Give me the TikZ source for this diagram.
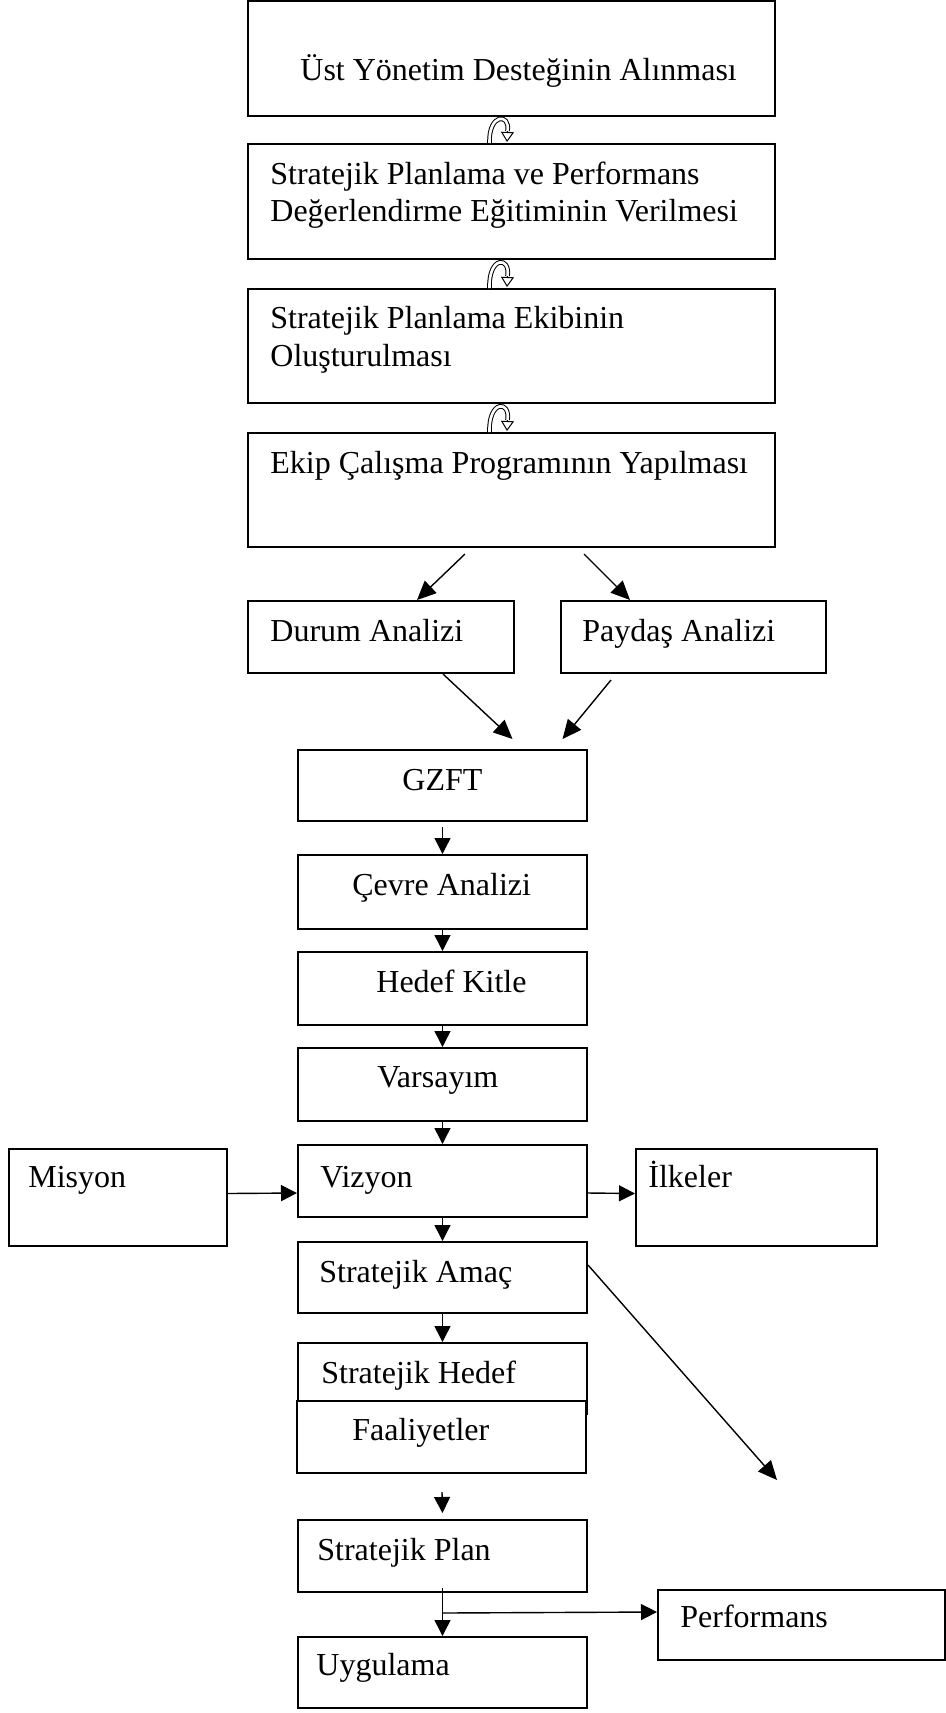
\documentclass[tikz,border=0pt]{standalone}
\usepackage{fontspec}
\setmainfont{Liberation Serif}
\usetikzlibrary{arrows.meta,calc,fit}
\begin{document}
\begin{tikzpicture}[x=0.5pt,y=-0.5pt,
  box/.style={draw, line width=1pt, inner sep=0pt, fill=white},
  txt/.style={inner sep=0pt, anchor=base west, font=\fontsize{16}{19}\selectfont},
  arr/.style={line width=0.7pt, -{Triangle[length=8pt,width=8pt]}},
  darr/.style={line width=0.7pt, -{Triangle[length=9.5pt,width=8.5pt]}},
  curl/.style={double, double distance=1.3pt, line width=0.5pt},
  curltip/.style={line width=0.5pt, fill=white, -{Triangle[open,length=5pt,width=6.5pt]}}]
\useasboundingbox (0,0) rectangle (946,1713);

% boxes
\node[box, fit={(248,1) (775,116)}] (b1) {};
\node[box, fit={(248,144) (775,259)}] (b2) {};
\node[box, fit={(248,289) (775,403)}] (b3) {};
\node[box, fit={(248,433) (775,547)}] (b4) {};
\node[box, fit={(248,601) (514,673)}] (durum) {};
\node[box, fit={(561,601) (826,673)}] (payd) {};
\node[box, fit={(298,750) (587,821)}] (gzft) {};
\node[box, fit={(298,855) (587,929)}] (cevre) {};
\node[box, fit={(298,952) (587,1025)}] (hkitle) {};
\node[box, fit={(298,1048) (587,1121)}] (vars) {};
\node[box, fit={(298,1145) (587,1217)}] (viz) {};
\node[box, fit={(9,1149) (227,1246)}] (mis) {};
\node[box, fit={(636,1149) (877,1246)}] (ilk) {};
\node[box, fit={(298,1242) (587,1313)}] (amac) {};
\node[box, fit={(298,1343) (587,1414)}] (hedef) {};
\node[box, fit={(297,1401) (586,1473)}] (faal) {};
\node[box, fit={(298,1520) (587,1592)}] (plan) {};
\node[box, fit={(658,1590) (945,1660)}] (perf) {};
\node[box, fit={(298,1637) (587,1708)}] (uyg) {};

% texts
\node[txt] (t1) at (300,80) {Üst Yönetim Desteğinin Alınması};
\node[txt] (t2a) at (270,184) {Stratejik Planlama ve Performans};
\node[txt] (t2b) at (270,221) {Değerlendirme Eğitiminin Verilmesi};
\node[txt] (t3a) at (270,328) {Stratejik Planlama Ekibinin};
\node[txt] (t3b) at (270,366) {Oluşturulması};
\node[txt] (t4) at (270,473) {Ekip Çalışma Programının Yapılması};
\node[txt] (tdur) at (270,641) {Durum Analizi};
\node[txt] (tpay) at (582,641) {Paydaş Analizi};
\node[txt] (tgz) at (402,790) {GZFT};
\node[txt] (tcev) at (352,895) {Çevre Analizi};
\node[txt] (thk) at (376,992) {Hedef Kitle};
\node[txt] (tvar) at (377,1087) {Varsayım};
\node[txt] (tviz) at (320,1187) {Vizyon};
\node[txt] (tmis) at (28,1187) {Misyon};
\node[txt] (tilk) at (648,1187) {İlkeler};
\node[txt] (tam) at (319,1282) {Stratejik Amaç};
\node[txt] (thed) at (321,1383) {Stratejik Hedef};
\node[txt] (tfa) at (352,1440) {Faaliyetler};
\node[txt] (tpl) at (317,1560) {Stratejik Plan};
\node[txt] (tperf) at (680,1627) {Performans};
\node[txt] (tuyg) at (316,1675) {Uygulama};

% curly arrows between the top boxes
\foreach \u/\l in {b1/b2, b2/b3, b3/b4}{
  \draw[curl] ($(\l.north)+(-22,0)$) .. controls ($(\u.south)+(-23,-4)$) and ($(\u.south)+(-1,-4)$) .. ($(\l.north)+(-4,-12)$);
  \draw[curltip] ($(\l.north)+(-4,-12)$) -- ($(\l.north)+(-4.5,-1)$);
}

% arrows
\draw[darr] ($(b4.south)+(-46.5,6)$) -- ($(durum.north)+(36,0)$);
\draw[darr] ($(b4.south)+(72.5,6)$) -- ($(payd.north)+(-63.5,0)$);
\draw[darr] ($(durum.south)+(62,0)$) -- ($(gzft.north)+(70,-10)$);
\draw[darr] ($(payd.south)+(-82.5,6)$) -- ($(gzft.north)+(120,-10)$);
\draw[arr] ($(gzft.south)+(0,5)$) -- (cevre.north);
\draw[arr] (cevre.south) -- (hkitle.north);
\draw[arr] (hkitle.south) -- (vars.north);
\draw[arr] (vars.south) -- (viz.north);
\draw[arr] ($(mis.east)+(0,-4)$) -- ($(viz.west)+(0,12)$);
\draw[arr] ($(viz.east)+(0,12)$) -- ($(ilk.west)+(0,-4)$);
\draw[arr] (viz.south) -- (amac.north);
\draw[arr] (amac.south) -- (hedef.north);
\coordinate (diagend) at (777,1480);
\draw[darr] ($(amac.north east)+(0,24)$) -- (diagend);
\draw[arr] ($(faal.south)+(0.5,18)$) -- ($(plan.north)+(0,-6)$);
\draw[arr] ($(plan.south)+(0,-5)$) -- (uyg.north);
\draw[arr] ($(plan.south)+(0,20)$) -- ($(perf.west)+(0,-13)$);
\end{tikzpicture}
\end{document}
